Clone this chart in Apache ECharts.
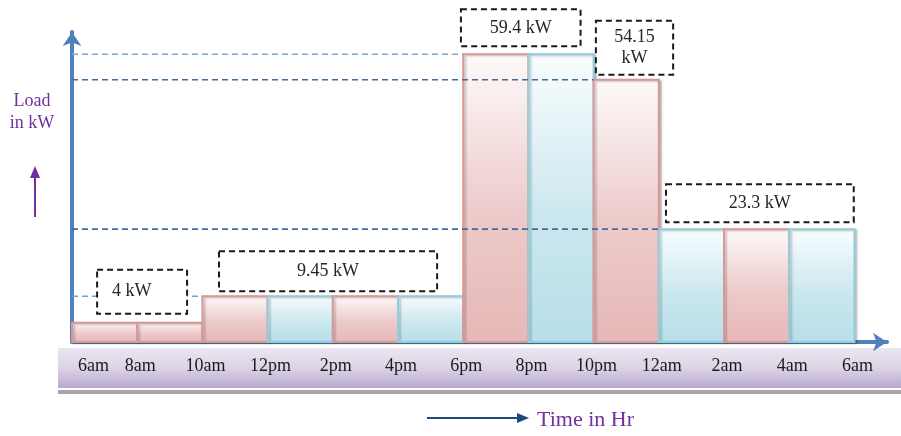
<!DOCTYPE html>
<html><head><meta charset="utf-8">
<script src="https://cdn.jsdelivr.net/npm/echarts@6/dist/echarts.min.js"></script>
<style>html,body{margin:0;padding:0;background:#fff}#chart{width:901px;height:436px}</style>
</head><body><div id="chart"></div>
<script>
// ---------------- data ----------------
const timeLabels = ['6am','8am','10am','12pm','2pm','4pm','6pm','8pm','10pm','12am','2am','4am','6am'];
const slotHours = 2;
const loads = [4, 4, 9.45, 9.45, 9.45, 9.45, 59.4, 59.4, 54.15, 23.3, 23.3, 23.3];
const annotValues = [4, 9.45, 59.4, 54.15, 23.3];
const annotLabels = ['4 kW', '9.45 kW', '59.4 kW', '54.15\nkW', '23.3 kW'];
const yAxisTitle = 'Load\nin kW';
const xAxisTitle = 'Time in Hr';

// ---------------- styles / layout ----------------
const barTone = ['pink','pink','pink','cyan','pink','cyan','pink','cyan','pink','cyan','pink','cyan'];
const toneStyles = {
  pink: {stroke:'#D99795', stops:[{offset:0,color:'#FEFAFA'},{offset:0.55,color:'#EDCACA'},{offset:1,color:'#E6B8B7'}]},
  cyan: {stroke:'#93CDDD', stops:[{offset:0,color:'#FAFDFE'},{offset:0.55,color:'#CCE8EF'},{offset:1,color:'#B7DEE8'}]}
};
const annotLayout = [
  {x0:0.77, x1:3.53, h:44, gap:9, align:'left', pad:15},
  {x0:4.51, x1:11.2, h:40, gap:5},
  {x0:11.93, x1:15.6, h:37, gap:8},
  {x0:16.07, x1:18.44, h:54, gap:5},
  {x0:18.22, x1:23.98, h:38, gap:7}
];
const dashColors = {59.4:'#7FA6D8', 54.15:'#46699C', 23.3:'#46699C', 9.45:'#6E9DDB'};
const serif = '"Liberation Serif", "DejaVu Serif", serif';

// ---------------- build ----------------
const barData = loads.map((v, i) => [i * slotHours, (i + 1) * slotHours, v, i]);
const annotData = annotValues.map((v, i) => [annotLayout[i].x0, annotLayout[i].x1, v, i]);

// dashed guide lines: from the load axis to the first bar of each later block
const dashSeries = [];
const seen = new Set();
loads.forEach((v, i) => {
  if (seen.has(v)) return;
  seen.add(v);
  if (i === 0) return;
  dashSeries.push({
    type: 'line', z: 5, silent: true, symbol: 'none',
    data: [[0, v], [i * slotHours, v]],
    lineStyle: {color: dashColors[v] || '#46699C', width: 1.6, type: [6, 4]}
  });
});

function renderBar(params, api) {
  const x0 = api.value(0), x1 = api.value(1), v = api.value(2), idx = api.value(3);
  const p0 = api.coord([x0, v]), p1 = api.coord([x1, 0]);
  const tone = toneStyles[barTone[idx]];
  return {
    type: 'rect',
    shape: {x: p0[0], y: p0[1], width: p1[0] - p0[0], height: p1[1] - p0[1]},
    style: {
      fill: new echarts.graphic.LinearGradient(0, 0, 0, 1, tone.stops),
      stroke: tone.stroke, lineWidth: 2,
      shadowBlur: 2, shadowOffsetX: 2, shadowOffsetY: 1, shadowColor: 'rgba(0,0,0,0.22)'
    }
  };
}

function renderAnnot(params, api) {
  const x0 = api.value(0), x1 = api.value(1), v = api.value(2), i = api.value(3);
  const L = annotLayout[i];
  const a = api.coord([x0, v]), b = api.coord([x1, v]);
  const top = a[1] - L.gap - L.h;
  const left = L.align === 'left';
  return {
    type: 'group',
    children: [
      {type: 'rect', shape: {x: a[0], y: top, width: b[0] - a[0], height: L.h},
       style: {fill: '#ffffff', stroke: '#1a1a1a', lineWidth: 2, lineDash: [6, 4]}},
      {type: 'text', x: left ? a[0] + L.pad : (a[0] + b[0]) / 2, y: top + L.h / 2,
       style: {text: annotLabels[i], font: '18px ' + serif, fill: '#262626',
               align: left ? 'left' : 'center', verticalAlign: 'middle', lineHeight: 21}}
    ]
  };
}

const chart = echarts.init(document.getElementById('chart'), null, {renderer: 'canvas'});
chart.setOption({
  animation: false,
  backgroundColor: '#ffffff',
  grid: {left: 72, right: 14, top: 32, bottom: 94},
  xAxis: {
    type: 'value', min: 0, max: 25, interval: 2,
    axisLine: {show: true, symbol: ['none', 'arrow'], symbolSize: [14, 14],
               lineStyle: {color: '#4F81BD', width: 4}},
    axisTick: {show: false}, splitLine: {show: false},
    axisLabel: {
      margin: 15, color: '#1a1a1a', fontFamily: serif, fontSize: 18,
      showMaxLabel: false, alignMinLabel: 'left', padding: [0, 0, 0, 6],
      formatter: v => (v % slotHours === 0 && v / slotHours < timeLabels.length) ? timeLabels[v / slotHours] : ''
    }
  },
  yAxis: {
    type: 'value', min: 0, max: 64, interval: 16,
    axisLine: {show: true, symbol: ['none', 'arrow'], symbolSize: [14, 14],
               lineStyle: {color: '#4F81BD', width: 4}},
    axisTick: {show: false}, splitLine: {show: false}, axisLabel: {show: false}
  },
  graphic: [
    {type: 'rect', z: -10, shape: {x: 58, y: 348, width: 843, height: 40},
     style: {fill: new echarts.graphic.LinearGradient(0, 0, 0, 1, [
       {offset: 0, color: '#EAE6F0'}, {offset: 0.5, color: '#DCD4E6'}, {offset: 1, color: '#B8A8CD'}])}},
    {type: 'rect', z: -10, shape: {x: 58, y: 390, width: 843, height: 4}, style: {fill: '#A6A6A6'}},
    {type: 'text', x: 32, y: 90,
     style: {text: yAxisTitle, font: '18px ' + serif, fill: '#7030A0', align: 'center', verticalAlign: 'top', lineHeight: 22}},
    {type: 'line', shape: {x1: 35, y1: 217, x2: 35, y2: 175}, style: {stroke: '#7030A0', lineWidth: 2}},
    {type: 'polygon', shape: {points: [[35, 166], [30, 178], [40, 178]]}, style: {fill: '#7030A0'}},
    {type: 'line', shape: {x1: 427, y1: 418, x2: 520, y2: 418}, style: {stroke: '#1F497D', lineWidth: 2}},
    {type: 'polygon', shape: {points: [[529, 418], [517, 413], [517, 423]]}, style: {fill: '#1F497D'}},
    {type: 'text', x: 537, y: 420,
     style: {text: xAxisTitle, font: '22px ' + serif, fill: '#7030A0', align: 'left', verticalAlign: 'middle'}}
  ],
  series: [
    {type: 'custom', name: 'Load', z: 3, renderItem: renderBar, data: barData,
     encode: {x: [0, 1], y: 2}, silent: true},
    ...dashSeries,
    {type: 'custom', name: 'Labels', z: 8, renderItem: renderAnnot, data: annotData,
     encode: {x: [0, 1], y: 2}, silent: true}
  ]
});
</script>
</body></html>
